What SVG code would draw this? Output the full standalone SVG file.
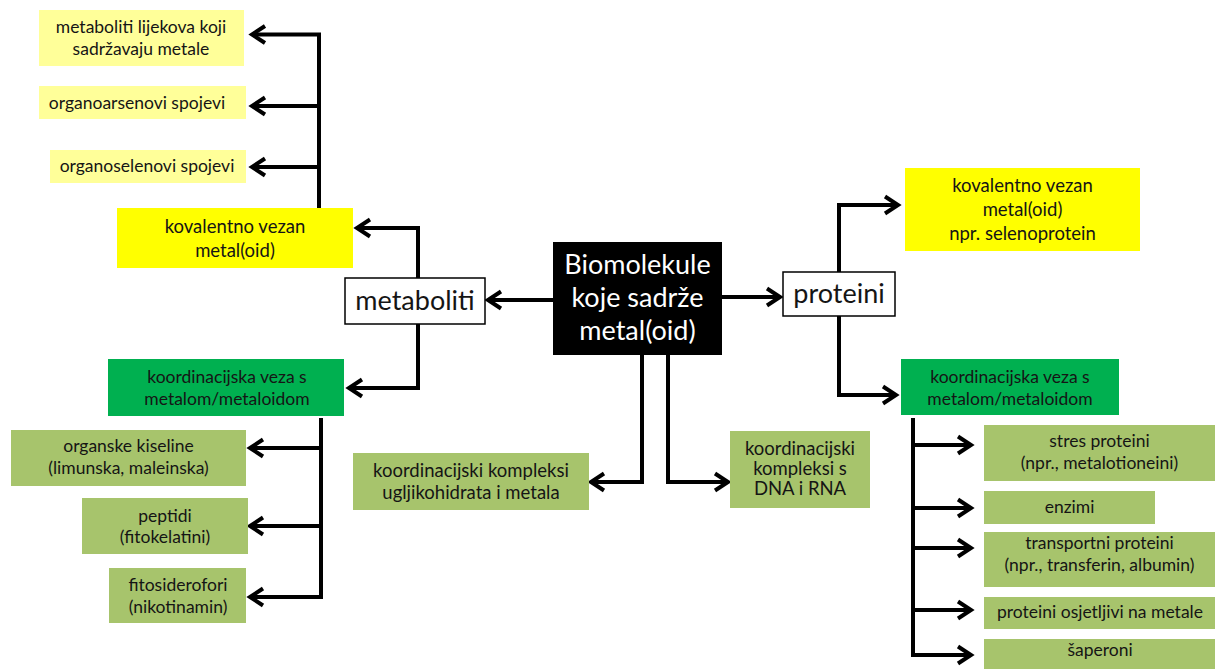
<svg xmlns="http://www.w3.org/2000/svg" width="1216" height="669" viewBox="0 0 1216 669">
<defs>
<marker id="arr" viewBox="-18 -12 22 24" refX="0" refY="0" markerWidth="22" markerHeight="24" markerUnits="userSpaceOnUse" orient="auto">
<path d="M-13,-8.5 L0,0 L-13,8.5" fill="none" stroke="#000" stroke-width="4" stroke-linejoin="miter" stroke-linecap="butt"/>
</marker>
<style>
text{font-family:"Lato","Open Sans","Liberation Sans",sans-serif;fill:#151515;text-anchor:middle}
.s{font-size:17.5px}
.m{font-size:18.5px}
.l{font-size:27px}
.b{font-size:27px;fill:#fff}
.py{fill:#FFFF99}
.y{fill:#FFFF00}
.dg{fill:#00B050}
.lg{fill:#A7C46C}
.w{fill:#fff;stroke:#000;stroke-width:1.5}
.k{fill:#000}
.c{fill:none;stroke:#000;stroke-width:4;stroke-linejoin:miter;marker-end:url(#arr)}
</style>
</defs>
<rect width="1216" height="669" fill="#fff"/>

<g id="connectors">
<path class="c" d="M319,208 V34.5 H252"/>
<path class="c" d="M319,106 H252"/>
<path class="c" d="M319,167 H252"/>
<path class="c" d="M418,278 V228 H357"/>
<path class="c" d="M553,300 H488"/>
<path class="c" d="M418,324 V388 H349"/>
<path class="c" d="M321,418 V597 H250"/>
<path class="c" d="M321,448 H250"/>
<path class="c" d="M321,526 H250"/>
<path class="c" d="M642,355 V482 H591"/>
<path class="c" d="M668,355 V482 H728"/>
<path class="c" d="M722,297 H780"/>
<path class="c" d="M839,272 V205 H898"/>
<path class="c" d="M839,316 V395 H896"/>
<path class="c" d="M913,418 V655 H971"/>
<path class="c" d="M913,445 H971"/>
<path class="c" d="M913,508 H971"/>
<path class="c" d="M913,548 H971"/>
<path class="c" d="M913,610 H971"/>
</g>

<g id="center">
<rect class="k" x="553" y="242" width="169" height="113"/>
<text class="b" x="637.5" y="274">Biomolekule</text>
<text class="b" x="637.5" y="307">koje sadrže</text>
<text class="b" x="637.5" y="340">metal(oid)</text>
</g>

<g id="metaboliti">
<rect class="w" x="345" y="278" width="140" height="46"/>
<text class="l" x="415" y="310">metaboliti</text>
</g>

<g id="proteini">
<rect class="w" x="783" y="272" width="112" height="44"/>
<text class="l" x="839" y="303">proteini</text>
</g>

<g id="lijekovi">
<rect class="py" x="39" y="10" width="205" height="56"/>
<text class="s" x="141" y="33">metaboliti lijekova koji</text>
<text class="s" x="141" y="55">sadržavaju metale</text>
</g>
<g id="organoarsenovi">
<rect class="py" x="39" y="86" width="207" height="33"/>
<text class="s" x="137" y="109">organoarsenovi spojevi</text>
</g>
<g id="organoselenovi">
<rect class="py" x="50" y="150" width="196" height="33"/>
<text class="s" x="147" y="172">organoselenovi spojevi</text>
</g>
<g id="kovalentno-met">
<rect class="y" x="117" y="208" width="236" height="60"/>
<text class="m" x="235" y="233">kovalentno vezan</text>
<text class="m" x="235" y="257">metal(oid)</text>
</g>
<g id="koord-met">
<rect class="dg" x="108" y="359" width="236" height="57"/>
<text class="s" x="227" y="383">koordinacijska veza s</text>
<text class="s" x="227" y="405">metalom/metaloidom</text>
</g>
<g id="organske">
<rect class="lg" x="11" y="430" width="235" height="56"/>
<text class="s" x="128.5" y="452">organske kiseline</text>
<text class="s" x="128.5" y="474">(limunska, maleinska)</text>
</g>
<g id="peptidi">
<rect class="lg" x="82" y="498" width="166" height="56"/>
<text class="s" x="165" y="522">peptidi</text>
<text class="s" x="165" y="543">(fitokelatini)</text>
</g>
<g id="fitosiderofori">
<rect class="lg" x="109" y="568" width="137" height="55"/>
<text class="s" x="178" y="591">fitosiderofori</text>
<text class="s" x="178" y="613">(nikotinamin)</text>
</g>
<g id="ugljikohidrati">
<rect class="lg" x="353" y="453" width="236" height="57"/>
<text class="m" x="471" y="477">koordinacijski kompleksi</text>
<text class="m" x="471" y="499">ugljikohidrata i metala</text>
</g>
<g id="dna">
<rect class="lg" x="730" y="431" width="140" height="77"/>
<text class="m" x="800" y="455">koordinacijski</text>
<text class="m" x="800" y="475">kompleksi s</text>
<text class="m" x="800" y="495">DNA i RNA</text>
</g>
<g id="kovalentno-prot">
<rect class="y" x="905" y="168" width="235" height="83"/>
<text class="m" x="1022.5" y="192">kovalentno vezan</text>
<text class="m" x="1022.5" y="216">metal(oid)</text>
<text class="m" x="1022.5" y="240">npr. selenoprotein</text>
</g>
<g id="koord-prot">
<rect class="dg" x="901" y="359" width="218" height="56"/>
<text class="s" x="1010" y="383">koordinacijska veza s</text>
<text class="s" x="1010" y="405">metalom/metaloidom</text>
</g>
<g id="stres">
<rect class="lg" x="984" y="425" width="231" height="56"/>
<text class="s" x="1099.5" y="447">stres proteini</text>
<text class="s" x="1099.5" y="469">(npr., metalotioneini)</text>
</g>
<g id="enzimi">
<rect class="lg" x="984" y="491" width="171" height="33"/>
<text class="s" x="1069.5" y="513">enzimi</text>
</g>
<g id="transportni">
<rect class="lg" x="984" y="532" width="231" height="55"/>
<text class="s" x="1099.5" y="549">transportni proteini</text>
<text class="s" x="1099.5" y="571">(npr., transferin, albumin)</text>
</g>
<g id="osjetljivi">
<rect class="lg" x="984" y="597" width="231" height="32"/>
<text class="s" x="1100" y="618">proteini osjetljivi na metale</text>
</g>
<g id="saperoni">
<rect class="lg" x="984" y="639" width="231" height="30"/>
<text class="s" x="1100" y="656">šaperoni</text>
</g>
</svg>
